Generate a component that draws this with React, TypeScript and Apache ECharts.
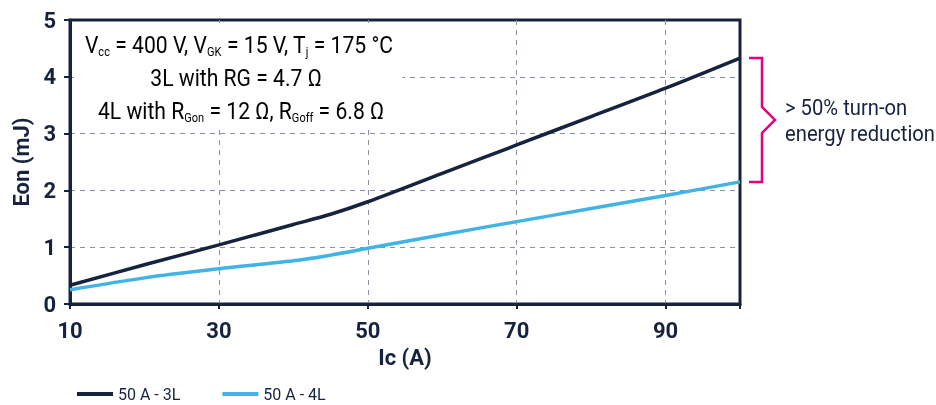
import React, { useEffect, useRef } from "react";
import * as echarts from "echarts";

const xValues = [10, 20, 30, 40, 45, 50, 60, 70, 80, 90, 100];
const series3L = [0.33, 0.69, 1.04, 1.4, 1.58, 1.8, 2.3, 2.8, 3.3, 3.8, 4.33];
const series4L = [0.25, 0.46, 0.62, 0.76, 0.86, 0.98, 1.22, 1.45, 1.68, 1.91, 2.15];
const seriesNames = ["50 A - 3L", "50 A - 4L"];
const xTicks = [10, 30, 50, 70, 90];
const yTicks = [0, 1, 2, 3, 4, 5];

const NAVY = "#16233f";
const BLUE = "#41b4e5";
const MAGENTA = "#e4007c";
const FONT = "Roboto";

export default function App() {
  const ref = useRef<HTMLDivElement>(null);
  useEffect(() => {
    const chart = echarts.init(ref.current!, null, { renderer: "svg" });
    const rich = {
      m: { fontSize: 23, lineHeight: 26, color: NAVY, fontFamily: FONT },
      s: { fontSize: 12, lineHeight: 10, color: NAVY, fontFamily: FONT, verticalAlign: "bottom" },
    };
    const split = { show: true, showMinLine: false, showMaxLine: false, lineStyle: { color: "#8c90a3", type: [5, 5], width: 1 } };
    const option: any = {
      animation: false,
      grid: { left: 70, right: 196, top: 20, bottom: 101, show: true, borderColor: NAVY, borderWidth: 3, backgroundColor: "transparent" },
      xAxis: {
        type: "value",
        min: 10,
        max: 100,
        interval: 20,
        name: "Ic (A)",
        nameLocation: "middle",
        nameGap: 42,
        nameTextStyle: { fontSize: 22, fontWeight: "bold", color: NAVY, fontFamily: FONT },
        axisLine: { lineStyle: { color: NAVY, width: 3 } },
        axisTick: { show: true, length: 5, lineStyle: { color: NAVY, width: 2 } },
        axisLabel: {
          fontSize: 22, fontWeight: "bold", color: NAVY, fontFamily: FONT, margin: 15,
          formatter: (v: number) => (xTicks.includes(v) ? String(v) : ""),
        },
        splitLine: split,
      },
      yAxis: {
        type: "value",
        min: 0,
        max: 5,
        interval: 1,
        name: "Eon (mJ)",
        nameLocation: "middle",
        nameGap: 38,
        nameTextStyle: { fontSize: 22, fontWeight: "bold", color: NAVY, fontFamily: FONT },
        axisLine: { show: true, lineStyle: { color: NAVY, width: 3 } },
        axisTick: { show: true, length: 6, lineStyle: { color: NAVY, width: 2 } },
        axisLabel: {
          fontSize: 22, fontWeight: "bold", color: NAVY, fontFamily: FONT, margin: 14,
          formatter: (v: number) => (yTicks.includes(v) ? String(v) : ""),
        },
        splitLine: split,
      },
      legend: {
        left: 72,
        top: 381,
        itemWidth: 36,
        itemHeight: 4,
        itemGap: 42,
        icon: "rect",
        textStyle: { fontSize: 16, color: NAVY, fontFamily: FONT },
        data: seriesNames,
      },
      series: [
        {
          name: seriesNames[0],
          type: "line",
          data: xValues.map((x, i) => [x, series3L[i]]),
          smooth: 0.3,
          showSymbol: false,
          lineStyle: { color: NAVY, width: 3.5 },
          itemStyle: { color: NAVY },
          z: 3,
        },
        {
          name: seriesNames[1],
          type: "line",
          data: xValues.map((x, i) => [x, series4L[i]]),
          smooth: 0.3,
          showSymbol: false,
          lineStyle: { color: BLUE, width: 3.5 },
          itemStyle: { color: BLUE },
          z: 3,
        },
      ],
    };
    chart.setOption(option);

    const last = xValues.length - 1;
    const pTop = chart.convertToPixel({ gridIndex: 0 }, [xValues[last], series3L[last]]) as number[];
    const pBot = chart.convertToPixel({ gridIndex: 0 }, [xValues[last], series4L[last]]) as number[];
    const xr = pTop[0];
    const yT = pTop[1];
    const yB = pBot[1];
    const yM = (yT + yB) / 2;
    const bx0 = xr + 9;
    const bx1 = xr + 22;
    const bx2 = xr + 35;
    const SX = 0.92;

    chart.setOption({
      graphic: [
        { type: "rect", z: 1, shape: { x: 74, y: 23, width: 328, height: 105 }, style: { fill: "#ffffff" } },
        {
          type: "text", z: 5, x: 239, y: 32, scaleX: SX,
          style: {
            text: "{m|V}{s|cc}{m| = 400 V, V}{s|GK}{m| = 15 V, T}{s|j}{m| = 175 °C}",
            rich, align: "center",
          },
        },
        {
          type: "text", z: 5, x: 236, y: 65, scaleX: SX,
          style: { text: "{m|3L with RG = 4.7 Ω}", rich, align: "center" },
        },
        {
          type: "text", z: 5, x: 241, y: 98, scaleX: SX,
          style: {
            text: "{m|4L with R}{s|Gon}{m| = 12 Ω, R}{s|Goff}{m| = 6.8 Ω}",
            rich, align: "center",
          },
        },
        {
          type: "polyline", z: 5,
          shape: { points: [[bx0, yT], [bx1, yT], [bx1, yM - 13], [bx2, yM], [bx1, yM + 13], [bx1, yB], [bx0, yB]] },
          style: { stroke: MAGENTA, lineWidth: 2.5, fill: null },
        },
        {
          type: "text", z: 5, x: 785, y: 94, scaleX: 0.92,
          style: { text: "> 50% turn-on\nenergy reduction", fontSize: 22, lineHeight: 26, fill: NAVY, fontFamily: FONT },
        },
      ],
    });
    return () => chart.dispose();
  }, []);
  return <div ref={ref} style={{ position: "fixed", left: 0, top: 0, width: 936, height: 405 }} />;
}
